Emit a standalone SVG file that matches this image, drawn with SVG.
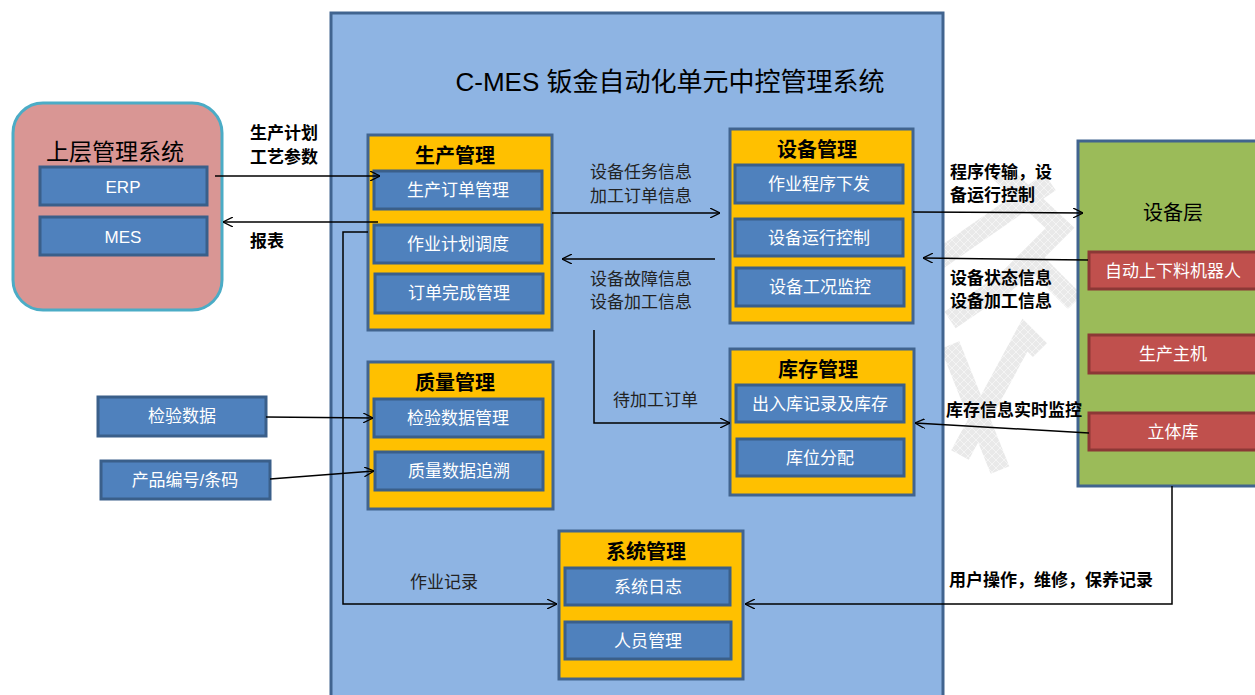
<svg xmlns="http://www.w3.org/2000/svg" width="1255" height="695" viewBox="0 0 1255 695">
  <defs>
    <marker id="arrow" viewBox="0 0 10 10" refX="10" refY="5" markerWidth="10" markerHeight="10" markerUnits="userSpaceOnUse" orient="auto">
      <path d="M0,0 L10,5 L0,10" fill="none" stroke="#000" stroke-width="1.3"/>
    </marker>
    <pattern id="hatch" width="8" height="8" patternUnits="userSpaceOnUse">
      <rect width="8" height="8" fill="#e6e6e6"/>
      <path d="M0,0 L8,8 M8,0 L0,8" stroke="#f3f3f3" stroke-width="1"/>
    </pattern>
  </defs>
  <style>
    text { font-family: "Liberation Sans", "Noto Sans CJK SC", sans-serif; }
    .main { fill: #8eb4e3; stroke: #41648f; stroke-width: 3; }
    .module { fill: #ffc000; stroke: #41648f; stroke-width: 3; }
    .sub { fill: #4f81bd; stroke: #3a5f8a; stroke-width: 3; }
    .dev { fill: #c0504d; stroke: #8c3836; stroke-width: 3; }
    .layer { fill: #9bbb59; stroke: #41648f; stroke-width: 3; }
    .upper { fill: #d99694; stroke: #4bacc6; stroke-width: 3; }
    .title { font-size: 20px; font-weight: bold; fill: #000; text-anchor: middle; }
    .item { font-size: 17px; fill: #fff; text-anchor: middle; }
    .lbl { font-size: 17px; fill: #222; }
    .blbl { font-size: 17px; fill: #000; font-weight: bold; }
    .conn { fill: none; stroke: #000; stroke-width: 1.5; }
    .wm { fill: none; stroke: url(#hatch); stroke-width: 20; stroke-linejoin: miter; }
  </style>

  <rect width="1255" height="695" fill="#fff"/>

  <!-- background watermark strokes -->
  <g id="watermark" opacity="0.85">
    <path class="wm" d="M1000,172 L1060,228 L1000,288"/>
    <path class="wm" d="M935,262 L1050,182"/>
    <path class="wm" d="M950,320 L1035,262 L1075,302"/>
    <path class="wm" d="M950,345 L1000,470"/>
    <path class="wm" d="M960,455 L1025,335 L1040,350"/>
  </g>

  <!-- central system frame -->
  <g id="cmes">
    <rect class="main" x="331" y="13" width="612" height="690"/>
    <text x="670" y="91" font-size="26" text-anchor="middle" fill="#000">C-MES 钣金自动化单元中控管理系统</text>
  </g>

  <!-- upper management -->
  <g id="upper">
    <rect class="upper" x="13" y="103" width="209" height="207" rx="30" ry="30"/>
    <text x="115" y="160" font-size="23" text-anchor="middle" fill="#000">上层管理系统</text>
    <rect class="sub" x="40" y="167" width="167" height="38"/>
    <text class="item" x="123" y="193" font-size="20">ERP</text>
    <rect class="sub" x="40" y="217" width="167" height="38"/>
    <text class="item" x="123" y="243" font-size="20">MES</text>
  </g>

  <!-- production management -->
  <g id="production">
    <rect class="module" x="368" y="135" width="184" height="195"/>
    <text class="title" x="455" y="163">生产管理</text>
    <rect class="sub" x="374" y="171" width="168" height="38"/>
    <text class="item" x="458" y="196">生产订单管理</text>
    <rect class="sub" x="374" y="225" width="168" height="38"/>
    <text class="item" x="458" y="250">作业计划调度</text>
    <rect class="sub" x="375" y="274" width="168" height="39"/>
    <text class="item" x="459" y="299">订单完成管理</text>
  </g>

  <!-- equipment management -->
  <g id="equipment">
    <rect class="module" x="730" y="129" width="183" height="194"/>
    <text class="title" x="817" y="157">设备管理</text>
    <rect class="sub" x="735" y="165" width="168" height="38"/>
    <text class="item" x="819" y="190">作业程序下发</text>
    <rect class="sub" x="735" y="219" width="168" height="37"/>
    <text class="item" x="819" y="244">设备运行控制</text>
    <rect class="sub" x="736" y="268" width="168" height="38"/>
    <text class="item" x="820" y="293">设备工况监控</text>
  </g>

  <!-- inventory management -->
  <g id="inventory">
    <rect class="module" x="730" y="349" width="184" height="146"/>
    <text class="title" x="818" y="377">库存管理</text>
    <rect class="sub" x="736" y="385" width="168" height="37"/>
    <text class="item" x="820" y="410">出入库记录及库存</text>
    <rect class="sub" x="737" y="439" width="167" height="37"/>
    <text class="item" x="820" y="464">库位分配</text>
  </g>

  <!-- quality management -->
  <g id="quality">
    <rect class="module" x="368" y="362" width="185" height="147"/>
    <text class="title" x="455" y="390">质量管理</text>
    <rect class="sub" x="374" y="399" width="169" height="38"/>
    <text class="item" x="458" y="424">检验数据管理</text>
    <rect class="sub" x="375" y="452" width="168" height="38"/>
    <text class="item" x="459" y="477">质量数据追溯</text>
  </g>

  <!-- system management -->
  <g id="system">
    <rect class="module" x="559" y="531" width="184" height="148"/>
    <text class="title" x="646" y="559">系统管理</text>
    <rect class="sub" x="565" y="568" width="165" height="37"/>
    <text class="item" x="648" y="593">系统日志</text>
    <rect class="sub" x="565" y="622" width="166" height="37"/>
    <text class="item" x="648" y="647">人员管理</text>
  </g>

  <!-- external inputs -->
  <g id="inspection">
    <rect class="sub" x="98" y="397" width="168" height="39"/>
    <text class="item" x="182" y="422">检验数据</text>
  </g>
  <g id="product-code">
    <rect class="sub" x="101" y="461" width="169" height="38"/>
    <text class="item" x="185" y="486">产品编号/条码</text>
  </g>

  <!-- equipment layer -->
  <g id="device-layer">
    <rect class="layer" x="1078" y="141" width="190" height="345"/>
    <text x="1173" y="220" font-size="20" text-anchor="middle" fill="#000">设备层</text>
    <rect class="dev" x="1089" y="252" width="180" height="37"/>
    <text class="item" x="1173" y="277">自动上下料机器人</text>
    <rect class="dev" x="1089" y="335" width="180" height="38"/>
    <text class="item" x="1173" y="360">生产主机</text>
    <rect class="dev" x="1089" y="413" width="180" height="37"/>
    <text class="item" x="1173" y="438">立体库</text>
  </g>

  <!-- connectors -->
  <g id="connectors">
    <line class="conn" x1="215" y1="176" x2="380" y2="176" marker-end="url(#arrow)"/>
    <line class="conn" x1="378" y1="222" x2="223" y2="222" marker-end="url(#arrow)"/>
    <polyline class="conn" points="368,232 343,232 343,604 557,604" marker-end="url(#arrow)"/>
    <line class="conn" x1="552" y1="213" x2="720" y2="213" marker-end="url(#arrow)"/>
    <line class="conn" x1="715" y1="259" x2="562" y2="259" marker-end="url(#arrow)"/>
    <polyline class="conn" points="594,330 594,423 730,423" marker-end="url(#arrow)"/>
    <line class="conn" x1="913" y1="212" x2="1083" y2="213" marker-end="url(#arrow)"/>
    <line class="conn" x1="1088" y1="260" x2="923" y2="258" marker-end="url(#arrow)"/>
    <line class="conn" x1="1089" y1="433" x2="915" y2="423" marker-end="url(#arrow)"/>
    <polyline class="conn" points="1172,486 1172,604 745,604" marker-end="url(#arrow)"/>
    <line class="conn" x1="266" y1="417" x2="373" y2="418" marker-end="url(#arrow)"/>
    <line class="conn" x1="270" y1="479" x2="374" y2="471" marker-end="url(#arrow)"/>
  </g>

  <!-- connector labels -->
  <g id="labels">
    <text class="blbl" x="250" y="139">生产计划</text>
    <text class="blbl" x="250" y="163">工艺参数</text>
    <text class="blbl" x="250" y="247">报表</text>
    <text class="lbl" x="590" y="178">设备任务信息</text>
    <text class="lbl" x="590" y="202">加工订单信息</text>
    <text class="lbl" x="590" y="285">设备故障信息</text>
    <text class="lbl" x="590" y="308">设备加工信息</text>
    <text class="lbl" x="613" y="406">待加工订单</text>
    <text class="lbl" x="410" y="588">作业记录</text>
    <text class="blbl" x="950" y="178">程序传输，设</text>
    <text class="blbl" x="950" y="201">备运行控制</text>
    <text class="blbl" x="950" y="284">设备状态信息</text>
    <text class="blbl" x="950" y="307">设备加工信息</text>
    <text class="blbl" x="946" y="416">库存信息实时监控</text>
    <text class="blbl" x="949" y="586">用户操作，维修，保养记录</text>
  </g>
</svg>
